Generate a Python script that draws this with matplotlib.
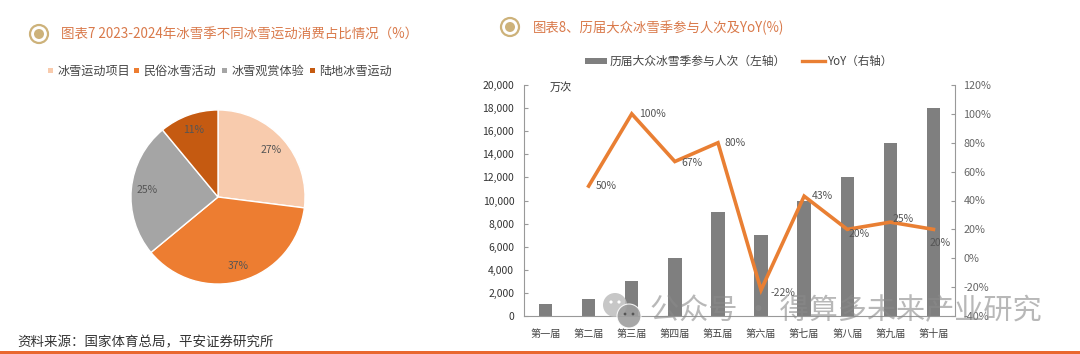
import numpy as np
import matplotlib
matplotlib.use('Agg')
import matplotlib.pyplot as plt
from matplotlib.patches import Circle, Rectangle

plt.rcParams['font.family'] = ['Noto Sans CJK SC', 'DejaVu Sans']

W, H = 1080, 354

# pie data
pie_labels = ['冰雪运动项目', '民俗冰雪活动', '冰雪观赏体验', '陆地冰雪运动']
pie_values = [27, 37, 25, 11]
pie_colors = ['#F8CBAD', '#ED7D31', '#A5A5A5', '#C55A11']

# bar + line data
sessions = ['第一届', '第二届', '第三届', '第四届', '第五届', '第六届', '第七届', '第八届', '第九届', '第十届']
people = [1000, 1500, 3000, 5000, 9000, 7000, 10000, 12000, 15000, 18000]
yoy = [np.nan, 50, 100, 67, 80, -22, 43, 20, 25, 20]
yoy_labels = ['', '50%', '100%', '67%', '80%', '-22%', '43%', '20%', '25%', '20%']
yoy_offsets = [(0, 0), (7, 0), (7, 0), (7, -1), (7, 0), (9, -3), (8, 0), (1, -5), (2, 3), (-4, -14)]
left_ticks = [0, 2000, 4000, 6000, 8000, 10000, 12000, 14000, 16000, 18000, 20000]
right_ticks = [-40, -20, 0, 20, 40, 60, 80, 100, 120]

fig = plt.figure(figsize=(W / 100, H / 100), dpi=100)


def px_axes(x0, y0, x1, y1):
    # pixel box (top-left origin) to figure axes
    return fig.add_axes([x0 / W, 1 - y1 / H, (x1 - x0) / W, (y1 - y0) / H])


bg = fig.add_axes([0, 0, 1, 1])
bg.set_xlim(0, W)
bg.set_ylim(H, 0)
bg.axis('off')


def title_mark(x, y):
    bg.add_patch(Circle((x, y), 9, fc='white', ec='#CDB27A', lw=1.6))
    bg.add_patch(Circle((x, y), 5, fc='#CDB27A', ec='none'))


# titles
title_mark(39, 34)
bg.text(61, 35, '图表7 2023-2024年冰雪季不同冰雪运动消费占比情况（%）', fontsize=9.7, color='#D9794A',
        va='center', ha='left', fontweight='medium')
title_mark(510, 27)
bg.text(533, 28, '图表8、历届大众冰雪季参与人次及YoY(%)', fontsize=9.6, color='#D9794A',
        va='center', ha='left', fontweight='medium')

# pie legend
legend_x = [51, 137, 225, 313]
for x, lab, c in zip(legend_x, pie_labels, pie_colors):
    bg.add_patch(Rectangle((x - 3, 68), 5, 5, fc=c, ec='none'))
    bg.text(x + 6, 71, lab, fontsize=8.7, color='#444444', va='center', ha='left')

# pie
ax1 = px_axes(124, 103, 312, 291)
wedges, texts, autotexts = ax1.pie(pie_values, colors=pie_colors, startangle=90, counterclock=False,
                                   radius=1, autopct='%d%%', pctdistance=0.82,
                                   wedgeprops={'edgecolor': 'white', 'linewidth': 1},
                                   textprops={'fontsize': 7.5, 'color': '#555555'})
ax1.set_xlim(-1.08, 1.08)
ax1.set_ylim(-1.08, 1.08)

# bar + line
ax2 = px_axes(524, 85, 955, 316)
x = np.arange(len(sessions))
ax2.bar(x, people, width=0.31, color='#7F7F7F', label='历届大众冰雪季参与人次（左轴）')
ax2.set_xlim(-0.5, 9.5)
ax2.set_ylim(0, 20000)
ax2.set_yticks(left_ticks)
ax2.set_yticklabels([f'{v:,}' for v in left_ticks], fontsize=7.5, color='#333333')
ax2.set_xticks(x)
ax2.set_xticklabels(sessions, fontsize=7.3, color='#444444')
ax2.tick_params(axis='y', direction='in', length=3, color='#999999', pad=7)
ax2.tick_params(axis='x', length=0, pad=9)
ax2.spines['top'].set_visible(False)
ax2.spines['right'].set_visible(False)
ax2.spines['left'].set_color('#999999')
ax2.spines['bottom'].set_color('#999999')
ax2.text(0.1, 19800, '万次', fontsize=8, color='#333333', va='center', ha='left')

ax3 = ax2.twinx()
ax3.plot(x, yoy, color='#E97F33', lw=2.6, label='YoY（右轴）', solid_joinstyle='miter')
ax3.set_ylim(-40, 120)
ax3.set_yticks(right_ticks)
ax3.set_yticklabels([f'{v}%' for v in right_ticks], fontsize=7.8, color='#666666')
ax3.tick_params(axis='y', direction='in', length=3, color='#999999', pad=6)
for s in ['top', 'left', 'bottom']:
    ax3.spines[s].set_visible(False)
ax3.spines['right'].set_color('#999999')
for xi, v, lab, off in zip(x, yoy, yoy_labels, yoy_offsets):
    if lab:
        ax3.annotate(lab, (xi, v), xytext=off, textcoords='offset pixels', fontsize=7.5,
                     color='#555555', va='center', ha='left')

# bar legend drawn by hand to match the wide layout
bg.add_patch(Rectangle((585, 58), 22, 6, fc='#7F7F7F', ec='none'))
bg.text(610, 61, '历届大众冰雪季参与人次（左轴）', fontsize=8.5, color='#444444', va='center', ha='left')
bg.plot([802, 825], [61, 61], color='#E97F33', lw=2.4)
bg.text(827, 61, 'YoY（右轴）', fontsize=8.3, color='#444444', va='center', ha='left')

# source + bottom rule
bg.text(17, 342, '资料来源：国家体育总局，平安证券研究所', fontsize=9.7, color='#333333', va='center', ha='left')
bg.add_patch(Rectangle((0, 351), W, 3, fc='#E9672F', ec='none'))

# watermark on top of everything
wm = fig.add_axes([0, 0, 1, 1], facecolor='none')
wm.set_xlim(0, W)
wm.set_ylim(H, 0)
wm.axis('off')
wm.add_patch(Circle((615, 305), 12, fc='#BDBDBD', ec='none', alpha=0.85))
wm.add_patch(Circle((629, 316), 12, fc='#9E9E9E', ec='white', lw=0.8, alpha=0.9))
for cx, cy in [(611, 302), (619, 302)]:
    wm.add_patch(Circle((cx, cy), 1.6, fc='white', ec='none'))
for cx, cy in [(625, 314), (633, 314)]:
    wm.add_patch(Circle((cx, cy), 1.4, fc='#555555', ec='none'))
wm.text(650, 311, '公众号 · 得算多未来产业研究', fontsize=21, color='#8A8A8A', alpha=0.6,
        va='center', ha='left')

fig.savefig('out.png', dpi=100)
